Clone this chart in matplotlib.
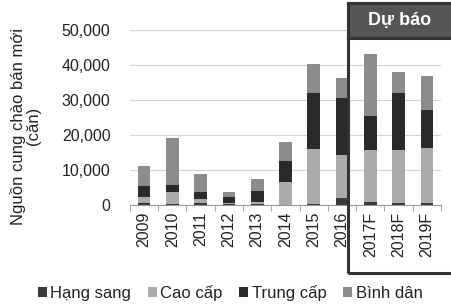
import matplotlib
matplotlib.use("Agg")
import matplotlib.pyplot as plt
from matplotlib.patches import Rectangle
import numpy as np

plt.rcParams['font.family'] = ['Liberation Sans', 'DejaVu Sans']

years = ['2009', '2010', '2011', '2012', '2013', '2014', '2015', '2016', '2017F', '2018F', '2019F']
hang_sang = [500, 300, 500, 300, 400, 100, 300, 2000, 800, 500, 500]
cao_cap = [1700, 3400, 1100, 400, 400, 6600, 15800, 12200, 14800, 15100, 15800]
trung_cap = [3300, 2100, 2100, 1500, 3300, 5800, 16000, 16400, 9800, 16500, 10800]
binh_dan = [5500, 13200, 5200, 1400, 3400, 5600, 8300, 5800, 17800, 5800, 9800]

series = [("Hạng sang", hang_sang, "#3a3a3a"),
          ("Cao cấp", cao_cap, "#ababab"),
          ("Trung cấp", trung_cap, "#2a2a2a"),
          ("Bình dân", binh_dan, "#8c8c8c")]

fig = plt.figure(figsize=(4.51, 3.05), dpi=100)
ax = fig.add_axes([0.288, 0.328, 0.690, 0.574])

x = np.arange(len(years))
bottom = np.zeros(len(years))
for name, vals, col in series:
    ax.bar(x, vals, 0.45, bottom=bottom, color=col, label=name, zorder=3)
    bottom += np.array(vals)

ax.set_ylim(0, 50000)
ax.set_xlim(-0.5, len(years) - 0.5)
ax.set_yticks(range(0, 50001, 10000))
ax.set_yticklabels(['0', '10,000', '20,000', '30,000', '40,000', '50,000'], fontsize=11.5, color='#222')
ax.set_xticks(x)
ax.set_xticklabels(years, rotation=90, fontsize=11.5, color='#222')
ax.tick_params(axis='both', length=0, pad=5)
ax.tick_params(axis='y', pad=14)
ax.set_xticks(np.arange(-0.5, len(years), 1), minor=True)
ax.tick_params(axis='x', which='minor', length=4, color='#999')
for s in ['top', 'right', 'left']:
    ax.spines[s].set_visible(False)
ax.spines['bottom'].set_color('#999')
ax.grid(axis='y', color='#d4d4d4', lw=0.8, zorder=0)

ax.set_ylabel("Nguồn cung chào bán mới\n(căn)", fontsize=12, color='#222', linespacing=1.0)
ax.yaxis.set_label_coords(-0.285, 0.45)

fig.legend(loc='lower center', bbox_to_anchor=(0.51, -0.035), ncol=4, frameon=False,
           fontsize=12, handlelength=0.55, handleheight=0.55, handletextpad=0.2,
           columnspacing=1.0, labelcolor='#222')

# forecast box
fig.patches.append(Rectangle((0.772, 0.105), 0.25, 0.885, transform=fig.transFigure,
                             fill=False, edgecolor='#333', lw=2.2, zorder=5))
fig.patches.append(Rectangle((0.772, 0.875), 0.25, 0.115, transform=fig.transFigure,
                             facecolor='#555', edgecolor='#333', lw=2.2, zorder=5))
fig.text(0.885, 0.932, "Dự báo", color='white', fontsize=13, fontweight='bold',
         ha='center', va='center', zorder=6)

fig.savefig("out.png", dpi=100)
